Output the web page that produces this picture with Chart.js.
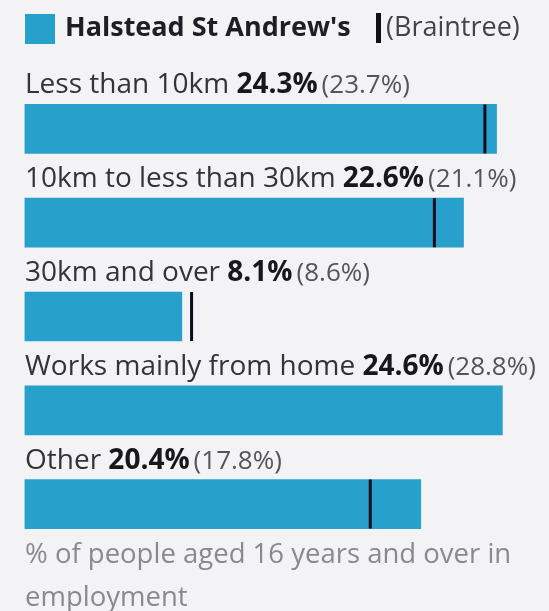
<!DOCTYPE html>
<html>
<head>
<meta charset="utf-8">
<script src="https://cdn.jsdelivr.net/npm/chart.js@4/dist/chart.umd.min.js"></script>
<style>
  html, body { margin:0; padding:0; background:#f3f3f6; }
  body { width:549px; height:611px; position:relative; overflow:hidden; font-family:"Open Sans", sans-serif; }
  #wrap { position:absolute; left:0; top:0; width:549px; height:611px; }
  #legend { position:absolute; left:0; top:0; width:549px; height:60px; }
  .sq { position:absolute; left:25px; top:14px; width:30px; height:30px; background:#27a0cc; }
  .lt { position:absolute; left:65px; top:8px; font-weight:700; font-size:27px; color:#1e1e24; white-space:nowrap; line-height:36px; }
  .mk { position:absolute; left:376px; top:13px; width:5px; height:30px; background:#111; }
  .bt { position:absolute; left:386px; top:8px; font-size:27px; color:#444; white-space:nowrap; line-height:36px; }
  #foot { position:absolute; left:25px; top:531px; width:520px; font-size:27.5px; color:#8a8a8a; line-height:43px; }
</style>
</head>
<body>
<div id="wrap"><canvas id="c" width="549" height="611"></canvas></div>
<div id="legend">
  <div class="sq"></div>
  <div class="lt">Halstead St Andrew's</div>
  <div class="mk"></div>
  <div class="bt">(Braintree)</div>
</div>
<div id="foot">% of people aged 16 years and over in employment</div>
<script>
const categories = ["Less than 10km", "10km to less than 30km", "30km and over", "Works mainly from home", "Other"];
const areaValues = [24.3, 22.6, 8.1, 24.6, 20.4];
const comparisonValues = [23.7, 21.1, 8.6, 28.8, 17.8];
const areaName = "Halstead St Andrew's";
const comparisonName = "Braintree";

const FONT = '"Open Sans", sans-serif';

const labelPlugin = {
  id: 'rowLabels',
  afterDatasetsDraw(chart) {
    const ctx = chart.ctx;
    const y = chart.scales.y;
    ctx.save();
    ctx.textBaseline = 'alphabetic';
    ctx.textAlign = 'left';
    categories.forEach((cat, i) => {
      const cy = y.getPixelForValue(i);
      const base = cy - 24.5 - 11;
      let x = 25;
      ctx.font = '28px ' + FONT;
      ctx.fillStyle = '#333338';
      ctx.fillText(cat + ' ', x, base);
      x += ctx.measureText(cat + ' ').width;
      ctx.font = 'bold 28px ' + FONT;
      ctx.fillStyle = '#18181c';
      const v = areaValues[i].toFixed(1) + '%';
      ctx.fillText(v, x, base);
      x += ctx.measureText(v).width + 4;
      ctx.font = '26px ' + FONT;
      ctx.fillStyle = '#555';
      ctx.fillText('(' + comparisonValues[i].toFixed(1) + '%)', x, base);
    });
    ctx.restore();
  }
};

new Chart(document.getElementById('c'), {
  type: 'bar',
  data: {
    labels: categories,
    datasets: [
      {
        type: 'line',
        label: comparisonName,
        data: comparisonValues,
        showLine: false,
        pointStyle: 'line',
        rotation: 90,
        pointRadius: 24.5,
        pointHoverRadius: 24.5,
        pointBorderWidth: 3,
        borderColor: '#0b0c1a',
        pointBorderColor: '#0b0c1a',
        order: 0
      },
      {
        label: areaName,
        data: areaValues,
        backgroundColor: '#27a0cc',
        borderWidth: 0,
        barThickness: 49,
        order: 1
      }
    ]
  },
  options: {
    indexAxis: 'y',
    responsive: false,
    animation: false,
    events: [],
    layout: { autoPadding: false, padding: { left: 24.5, right: 0, top: 82, bottom: 60 } },
    plugins: { legend: { display: false }, tooltip: { enabled: false } },
    scales: {
      x: { display: false, min: 0, max: 27 },
      y: { display: false, offset: true }
    }
  },
  plugins: [labelPlugin]
});
</script>
</body>
</html>
